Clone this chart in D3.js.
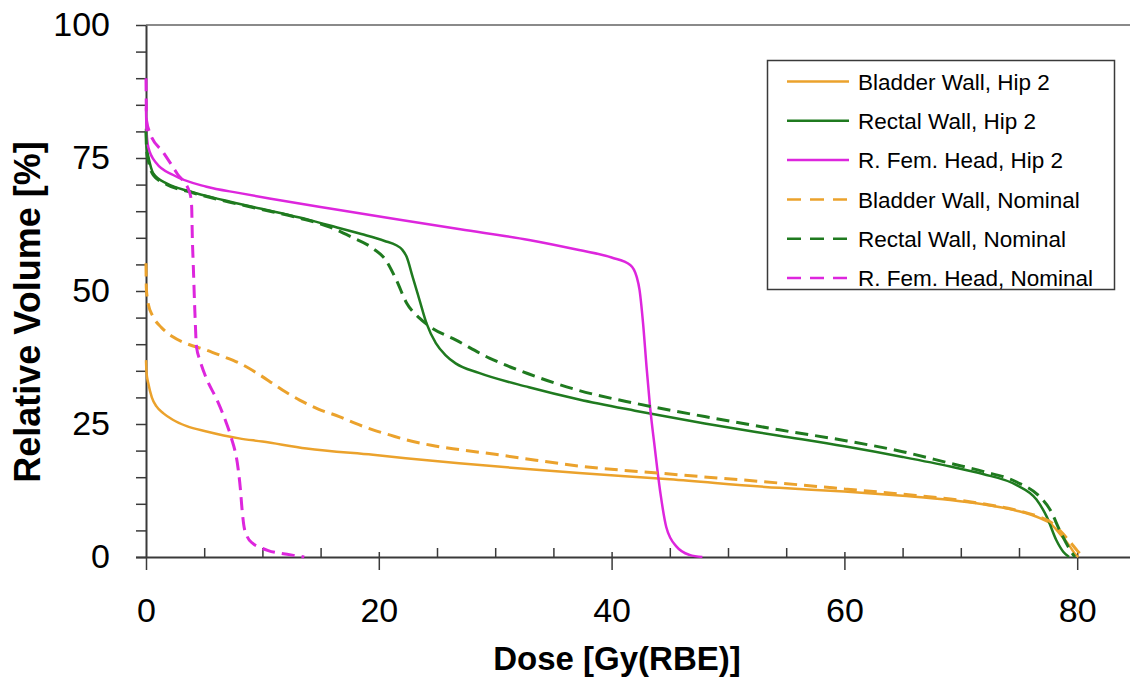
<!DOCTYPE html>
<html>
<head>
<meta charset="utf-8">
<script src="https://cdn.jsdelivr.net/npm/d3@7"></script>
<style>
  html, body { margin: 0; padding: 0; background: #fff; }
  svg { display: block; font-family: Arial, "Liberation Sans", sans-serif; }
</style>
</head>
<body>
<svg id="chart" width="1130" height="681"></svg>
<script>
// Dose-volume histograms: [dose Gy(RBE), relative volume %]
const bladderHip2 = [
  [0,37],[0.05,34.5],[0.2,32.6],[0.5,30],[0.9,28.3],[1.5,27],[2.3,25.8],[3.5,24.6],
  [5.2,23.6],[8,22.3],[10,21.7],[13.8,20.4],[19.5,19.2],[26.9,17.6],[33,16.5],
  [37.2,15.8],[45,14.6],[54.4,13],[60,12.3],[65,11.5],[69.1,10.7],[71.9,9.9],
  [74.8,8.7],[76.8,7.3],[77.7,6.3],[78.5,4.4],[79.4,1.9],[79.8,0.6],[80.1,0]
];
const rectalHip2 = [
  [0,80.5],[0.05,77],[0.2,75.3],[0.63,72.1],[1.8,70.2],[3.8,68.7],[6.6,67.1],
  [9.8,65.5],[13.2,63.8],[15.8,62.3],[18.5,60.7],[20.5,59.4],[21.5,58.6],[22,57.8],
  [22.4,56.4],[22.9,52.7],[23.5,48.3],[24.1,43.9],[24.9,40.2],[25.7,38],[26.6,36.4],
  [28.6,34.6],[32.9,31.9],[37.2,29.6],[42,27.5],[48,25.1],[54.4,22.8],[60,20.8],
  [65,18.8],[69.1,17],[71.9,15.6],[74.8,13.5],[76.5,10.8],[77.4,7.5],[78.2,3.2],
  [78.8,1],[79.3,0]
];
const femHeadHip2 = [
  [0,84.5],[0.05,80],[0.2,77],[0.9,74],[2.34,71.8],[5.2,69.6],[8.06,68.4],
  [10.6,67.4],[15.8,65.5],[21.8,63.4],[27,61.6],[32.9,59.6],[37.2,57.7],[40,56.3],
  [41.6,54.9],[42.15,52.7],[42.4,50.2],[42.7,44],[43,35.8],[43.3,28.3],[43.7,20.7],
  [44.2,11.9],[44.7,5.6],[45.6,1.9],[46.7,0.4],[47.8,0]
];
const bladderNominal = [
  [0,55.2],[0.03,50.5],[0.2,47.5],[0.6,45.2],[1.3,43.2],[2.3,41.4],[3.5,40.1],
  [5.2,38.9],[6.5,37.8],[8.06,36.4],[9.5,34.6],[10.9,32.6],[12,31],[13.2,29.5],
  [14.8,27.8],[16.6,26.4],[18,25.1],[19.5,23.9],[21,22.9],[22.4,22],[24.5,21],
  [26.9,20.2],[30,19.3],[33.5,18.2],[37.2,17.1],[45,15.6],[54.4,13.9],[60,12.8],
  [65,11.8],[69.1,10.9],[71.9,10],[74.8,8.8],[76.8,7.5],[77.7,6.6],[78.5,5],
  [79.4,2.8],[80,1.2],[80.5,0]
];
const rectalNominal = [
  [0,80],[0.05,76.5],[0.2,74.5],[0.63,71.8],[1.8,70],[3.8,68.6],[6.6,67],
  [9.8,65.4],[13.2,63.7],[15.8,62],[17.5,60.3],[19.5,58],[20.6,55.8],[21.5,52.1],
  [22.4,47.7],[23.5,44.9],[24.4,43.3],[26.6,40.8],[29.5,37.4],[32.9,34.4],[37.2,31.3],
  [42,28.9],[48,26.4],[54.4,23.9],[60,21.9],[65,19.8],[69.1,17.6],[71.9,16.1],
  [74.8,14.1],[76.8,11.3],[77.7,8.8],[78.5,5],[79.4,1.3],[79.8,0]
];
const femHeadNominal = [
  [0,90],[0.05,82],[0.34,79.7],[1.5,76],[2.7,72],[3.77,68.4],[3.92,66],[3.98,60],
  [4.06,55],[4.2,46],[4.34,39.5],[4.63,37],[5.2,33.5],[6.06,29.7],[6.9,25.2],
  [7.3,22.6],[7.92,16.5],[8.1,13],[8.25,9],[8.4,6],[8.7,3.8],[9.2,2.5],[9.8,1.8],
  [10.5,1.2],[11.8,0.6],[13.2,0.15],[13.6,0]
];

const seriesNames = [
  "Bladder Wall, Hip 2", "Rectal Wall, Hip 2", "R. Fem. Head, Hip 2",
  "Bladder Wall, Nominal", "Rectal Wall, Nominal", "R. Fem. Head, Nominal"
];
const seriesData = [bladderHip2, rectalHip2, femHeadHip2, bladderNominal, rectalNominal, femHeadNominal];

const xMajorTicks = [0, 20, 40, 60, 80];
const yMajorTicks = [0, 25, 50, 75, 100];

// Styling
const orange = "#EBA22C", green = "#1F7A1F", magenta = "#DD26DD";
const seriesColors = [orange, green, magenta, orange, green, magenta];
const seriesDashed = [false, false, false, true, true, true];
const axisColor = "#3a3a3a";

const svg = d3.select("#chart");
const x = d3.scaleLinear().domain([0, 85]).range([146, 146 + 85 * 11.64]);
const y = d3.scaleLinear().domain([0, 100]).range([557, 25]);

// top frame line
svg.append("line")
  .attr("x1", x(0)).attr("x2", 1130)
  .attr("y1", y(100)).attr("y2", y(100))
  .attr("stroke", "#8a8a8a").attr("stroke-width", 2);

// Y axis: ticks every 5 %, labels every 25 %
const yAxis = svg.append("g")
  .attr("transform", `translate(${x(0)},0)`)
  .call(d3.axisLeft(y)
    .tickValues(d3.range(0, 101, 5))
    .tickSize(10)
    .tickSizeOuter(0)
    .tickPadding(26)
    .tickFormat(d => yMajorTicks.includes(d) ? d : ""));
yAxis.select(".domain").attr("stroke", axisColor).attr("stroke-width", 2);
yAxis.selectAll(".tick line").attr("stroke", axisColor).attr("stroke-width", 1.5);
yAxis.selectAll(".tick text")
  .attr("fill", "#000").attr("font-size", 34).attr("font-family", "Arial, 'Liberation Sans', sans-serif");

// X axis: major ticks cross the axis, minor ticks every 5 Gy point inward
const xAxis = svg.append("g")
  .attr("transform", `translate(0,${y(0)})`)
  .call(d3.axisBottom(x)
    .tickValues(xMajorTicks)
    .tickSize(13)
    .tickSizeOuter(0)
    .tickPadding(28)
    .tickFormat(d3.format("d")));
xAxis.select(".domain").attr("stroke", axisColor).attr("stroke-width", 2)
  .attr("d", `M${x(0) - 10},0.5H1130`);
xAxis.selectAll(".tick line").attr("stroke", axisColor).attr("stroke-width", 1.5);
xAxis.selectAll(".tick text")
  .attr("fill", "#000").attr("font-size", 34).attr("font-family", "Arial, 'Liberation Sans', sans-serif");

const xInner = svg.append("g")
  .attr("transform", `translate(0,${y(0)})`)
  .call(d3.axisTop(x)
    .tickValues(d3.range(5, 85, 5))
    .tickSize(9)
    .tickSizeOuter(0)
    .tickFormat(""));
xInner.select(".domain").remove();
xInner.selectAll(".tick line")
  .attr("stroke", axisColor).attr("stroke-width", 1.5)
  .attr("y2", d => xMajorTicks.includes(d) ? -5 : -9);

// Axis titles
svg.append("text")
  .attr("transform", `translate(40,312) rotate(-90)`)
  .attr("text-anchor", "middle")
  .attr("font-size", 36).attr("font-weight", "bold")
  .text("Relative Volume [%]");
svg.append("text")
  .attr("x", 617).attr("y", 670)
  .attr("text-anchor", "middle")
  .attr("font-size", 33).attr("font-weight", "bold")
  .text("Dose [Gy(RBE)]");

// Curves
const line = d3.line()
  .x(d => x(d[0]))
  .y(d => y(d[1]))
  .curve(d3.curveMonotoneX);

const curves = svg.append("g");
seriesData.forEach((data, i) => {
  curves.append("path")
    .datum(data)
    .attr("fill", "none")
    .attr("stroke", seriesColors[i])
    .attr("stroke-width", seriesDashed[i] ? 3 : 2.5)
    .attr("stroke-dasharray", seriesDashed[i] ? "13,7" : null)
    .attr("stroke-linejoin", "round")
    .attr("d", line);
});

// Legend
const legend = svg.append("g");
legend.append("rect")
  .attr("x", 767.5).attr("y", 60.5)
  .attr("width", 347).attr("height", 229)
  .attr("fill", "#fff")
  .attr("stroke", "#3a3a3a").attr("stroke-width", 1.5);
seriesNames.forEach((name, i) => {
  const cy = 81.5 + i * 39.3;
  legend.append("line")
    .attr("x1", 787).attr("x2", 849)
    .attr("y1", cy).attr("y2", cy)
    .attr("stroke", seriesColors[i])
    .attr("stroke-width", 2.5)
    .attr("stroke-dasharray", seriesDashed[i] ? "14,9" : null);
  legend.append("text")
    .attr("x", 858).attr("y", cy)
    .attr("dy", "0.36em")
    .attr("font-size", 22.5)
    .text(name);
});
</script>
</body>
</html>
